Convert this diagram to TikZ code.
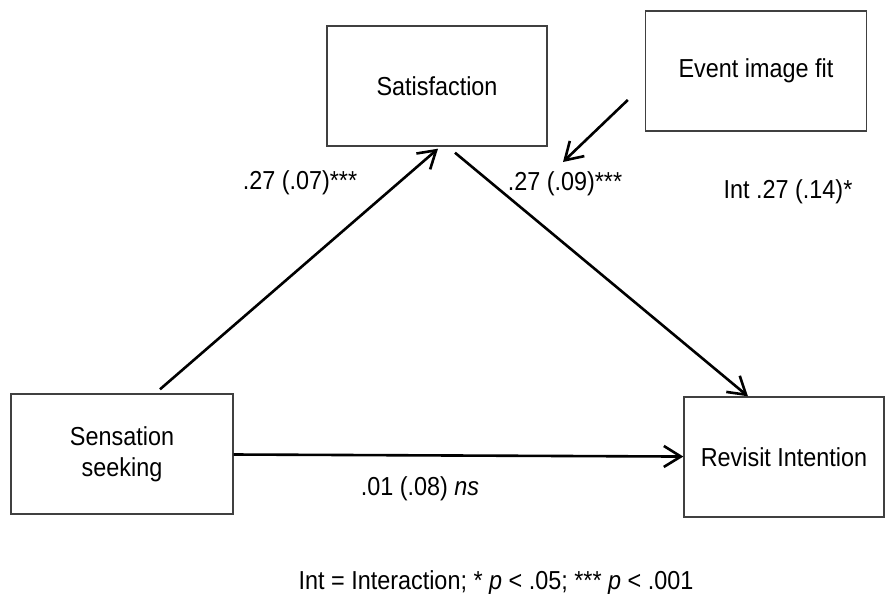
\documentclass[tikz,border=0pt]{standalone}
\usepackage{fontspec}
\setmainfont{Liberation Sans}[FakeStretch=0.9]
\usetikzlibrary{arrows.meta}

\begin{document}
\begin{tikzpicture}
[x=1pt, y=-1pt, font=\fontsize{26}{31}\selectfont,
    box/.style={draw=black!75, line width=1.4pt, minimum width=#1, minimum height=120pt, align=center, inner sep=0pt},
    link/.style={line width=2.6pt, -{Straight Barb[length=17pt, width=21pt]}},
    coef/.style={anchor=base}]
\useasboundingbox (0,0) rectangle (895,594);

% variables
\node [box=222pt] (sense) at (122,454) {Sensation\\seeking};
\node [box=220pt] (sat) at (437,86) {Satisfaction};
\node [box=221pt] (fit) at (756,71) {Event image fit};
\node [box=200pt] (rev) at (784,457) {Revisit Intention};
\coordinate (modtip) at (563,162);

% paths
\draw [link] ([shift={(38pt,4pt)}]sense.north) -- ([shift={(1pt,-2pt)}]sat.south);
\draw [link] ([shift={(18pt,-6pt)}]sat.south) -- ([xshift=-36pt]rev.north);
\draw [link] (sense) -- (rev);
\draw [link] ([shift={(-17pt,-29pt)}]fit.west) -- (modtip);

% coefficients
\node [coef] (acoef) at (300,189) {.27 (.07)***};
\node [coef] (bcoef) at (565,190) {.27 (.09)***};
\node [coef] (intcoef) at (788,198) {Int .27 (.14)*};
\node [coef] (ccoef) at (420,495) {.01 (.08) \textit{ns}};
\node [coef] (note) at (496,589) {Int = Interaction; * \textit{p} < .05; *** \textit{p} < .001};
\end{tikzpicture}
\end{document}
